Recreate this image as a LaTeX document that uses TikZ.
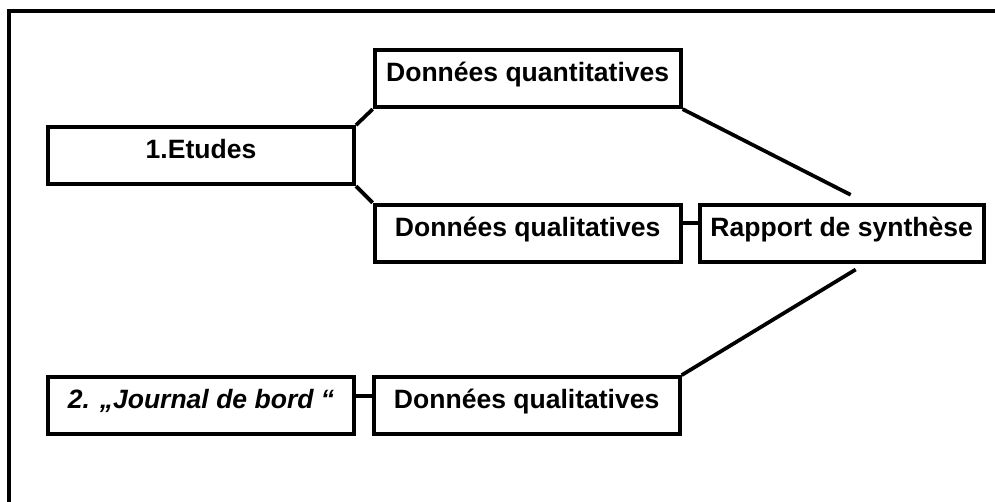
\documentclass[tikz,border=0pt]{standalone}
\usepackage{fontspec}
\setmainfont{Liberation Sans}
\usetikzlibrary{positioning}

\begin{document}
\begin{tikzpicture}[
node distance=12.5pt and 12.5pt,
box/.style={draw,line width=3pt,align=center,minimum width=229.5pt,minimum height=42.75pt,text height=14pt,text depth=9.5pt,inner sep=0pt,font=\fontsize{19.9}{23}\selectfont\bfseries},
link/.style={line width=2.8pt}]
\useasboundingbox (0,0) rectangle (746.25pt,376.5pt);
\draw[line width=3pt] (7pt,-5pt) -- (7pt,367.9pt) -- (752pt,367.9pt);
\node[box] (etudes) at (150.75pt,259.76pt) {1.Etudes};
\node[box,above right=12pt and 12.5pt of etudes] (quanti) {Données quantitatives};
\node[box,below right=12.5pt and 12.5pt of etudes] (quali) {Données qualitatives};
\node[box,right=11.25pt of quali,minimum width=213pt] (rapport) {Rapport de synthèse};
\node[box,below=141.75pt of etudes] (journal) {\itshape 2. „Journal de bord “};
\node[box,right=11.75pt of journal] (qualib) {Données qualitatives};
\coordinate (rtop) at ([xshift=6.75pt,yshift=6pt]rapport.north);
\coordinate (rbot) at ([xshift=10.5pt,yshift=-4.3pt]rapport.south);
\draw[link] (etudes.north east) -- (quanti.south west);
\draw[link] (etudes.south east) -- (quali.north west);
\draw[link] ([yshift=7.5pt]quali.east) -- ([yshift=7.5pt]rapport.west);
\draw[link] ([yshift=7.5pt]journal.east) -- ([yshift=7.5pt]qualib.west);
\draw[link] (quanti.south east) -- (rtop);
\draw[link] (qualib.north east) -- (rbot);
\end{tikzpicture}
\end{document}
